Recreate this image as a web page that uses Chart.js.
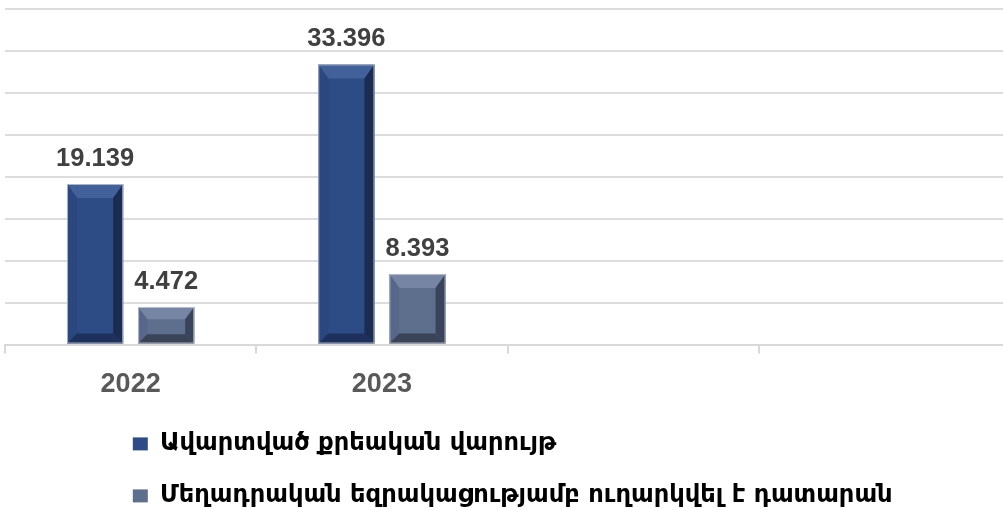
<!DOCTYPE html>
<html>
<head>
<meta charset="utf-8">
<script src="https://cdn.jsdelivr.net/npm/chart.js@4.4.1/dist/chart.umd.min.js"></script>
<style>
    body { margin: 0; overflow: hidden; background: #fff; }
    #wrap { width: 1010px; height: 510px; }
</style>
</head>
<body>
<div id="wrap"><canvas id="barChart"></canvas></div>
<script>
const years = ["2022", "2023", "", ""];
const finishedCases = [19.139, 33.396, null, null];
const sentToCourt = [4.472, 8.393, null, null];
const seriesNames = [
    "Ավարտված քրեական վարույթ",
    "Մեղադրական եզրակացությամբ ուղարկվել է դատարան",
];
const yMax = 40;
const yStep = 5;

// face, top, left, right, bottom
const bevelColors = [
    ["#2d4b84", "#42609a", "#2a477f", "#1a2c52", "#1d315c"],
    ["#5e6f8e", "#7585a3", "#56678a", "#39445c", "#3a4357"],
];

// ----------------- bevel look on the bars ------------------ //
const bevelBars = {
    id: "bevelBars",
    afterDatasetsDraw(chart) {
        const ctx = chart.ctx;
        chart.data.datasets.forEach((ds, di) => {
            const c = bevelColors[di];
            chart.getDatasetMeta(di).data.forEach((bar, i) => {
                if (ds.data[i] === null) return;
                const L = bar.x - bar.width / 2;
                const R = bar.x + bar.width / 2;
                const T = bar.y;
                const B = bar.base;
                const h = B - T;
                const bs = Math.min(10, h / 4);
                const bt = Math.min(14, h / 3);
                const poly = (pts, col) => {
                    ctx.beginPath();
                    ctx.moveTo(pts[0][0], pts[0][1]);
                    for (let k = 1; k < pts.length; k++) ctx.lineTo(pts[k][0], pts[k][1]);
                    ctx.closePath();
                    ctx.fillStyle = col;
                    ctx.fill();
                };
                ctx.save();
                poly([[L, T], [R, T], [R - bs, T + bt], [L + bs, T + bt]], c[1]);
                poly([[L, T], [L + bs, T + bt], [L + bs, B - bs], [L, B]], c[2]);
                poly([[R, T], [R, B], [R - bs, B - bs], [R - bs, T + bt]], c[3]);
                poly([[L, B], [L + bs, B - bs], [R - bs, B - bs], [R, B]], c[4]);
                ctx.strokeStyle = "rgba(200,205,215,0.8)";
                ctx.lineWidth = 1;
                ctx.strokeRect(L + 0.5, T + 0.5, R - L - 1, B - T - 1);
                ctx.restore();
            });
        });
    },
};

// ----------------- value labels ------------------ //
const valueLabels = {
    id: "valueLabels",
    afterDatasetsDraw(chart) {
        const ctx = chart.ctx;
        ctx.save();
        ctx.font = "bold 25.5px 'Liberation Sans'";
        ctx.fillStyle = "#404040";
        ctx.textAlign = "center";
        ctx.textBaseline = "alphabetic";
        chart.data.datasets.forEach((ds, di) => {
            chart.getDatasetMeta(di).data.forEach((bar, i) => {
                const v = ds.data[i];
                if (v === null || v === undefined) return;
                ctx.fillText(v.toFixed(3), bar.x, bar.y - 18);
            });
        });
        ctx.restore();
    },
};

// ----------------- legend starts left-aligned ------------------ //
const legendShift = {
    id: "legendShift",
    beforeDraw(chart) {
        chart.legend.left = 105;
    },
};

new Chart(document.getElementById("barChart"), {
    type: "bar",
    data: {
        labels: years,
        datasets: [
            {
                label: seriesNames[0],
                data: finishedCases,
                backgroundColor: bevelColors[0][0],
            },
            {
                label: seriesNames[1],
                data: sentToCourt,
                backgroundColor: bevelColors[1][0],
            },
        ],
    },
    options: {
        responsive: true,
        maintainAspectRatio: false,
        animation: false,
        categoryPercentage: 0.566,
        barPercentage: 0.79,
        layout: {
            padding: { left: 5, top: 9, right: 0, bottom: -8 },
        },
        plugins: {
            tooltip: { enabled: false },
            legend: {
                position: "bottom",
                align: "start",
                labels: {
                    boxWidth: 15,
                    boxHeight: 13,
                    padding: 27.8,
                    color: "#000",
                    font: { family: "'DejaVu Sans'", size: 24.2, weight: "bold" },
                },
            },
        },
        scales: {
            x: {
                afterFit(scale) {
                    scale.height = 59.5;
                },
                grid: {
                    display: true,
                    drawOnChartArea: false,
                    drawTicks: true,
                    tickLength: 9,
                    color: "#d9d9d9",
                    lineWidth: 2,
                },
                border: { display: true, color: "#d9d9d9", width: 2 },
                ticks: {
                    color: "#595959",
                    padding: 14.5,
                    font: { family: "'Liberation Sans'", size: 27, weight: "bold" },
                },
            },
            y: {
                min: 0,
                max: yMax,
                ticks: { display: false, stepSize: yStep },
                border: { display: false },
                grid: { color: "#dcdcdc", lineWidth: 2, drawTicks: false },
            },
        },
    },
    plugins: [bevelBars, valueLabels, legendShift],
});
</script>
</body>
</html>
